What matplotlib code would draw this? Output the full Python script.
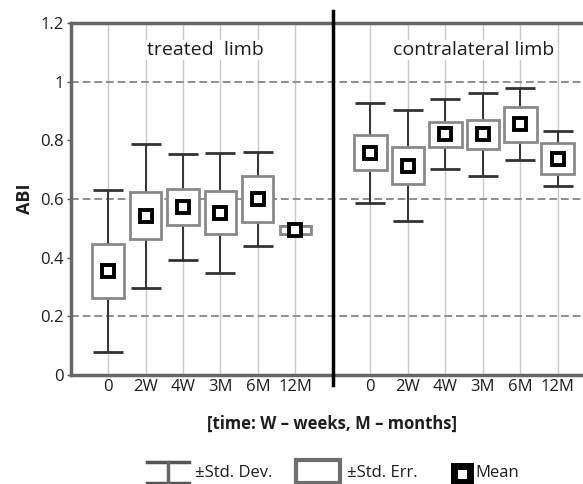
import numpy as np
import matplotlib
matplotlib.use("Agg")
import matplotlib.pyplot as plt
from matplotlib.patches import Rectangle

plt.rcParams['font.family'] = ['Open Sans', 'DejaVu Sans']

# data
time_labels = ['0', '2W', '4W', '3M', '6M', '12M']

treated_mean = [0.355, 0.543, 0.573, 0.553, 0.600, 0.495]
treated_se = [0.093, 0.080, 0.062, 0.073, 0.080, 0.013]
treated_sd = [0.275, 0.245, 0.180, 0.205, 0.160, 0.013]

contra_mean = [0.758, 0.714, 0.821, 0.820, 0.855, 0.738]
contra_se = [0.060, 0.064, 0.043, 0.048, 0.060, 0.053]
contra_sd = [0.170, 0.190, 0.120, 0.140, 0.122, 0.093]

group_labels = ['treated  limb', 'contralateral limb']
legend_labels = ['\u00b1Std. Dev.', '\u00b1Std. Err.', 'Mean']

TEXT = '#1e1e1e'


def draw_group(ax, xs, mean, se, sd, box_w):
    """ Draw SD whiskers, SE boxes and mean markers for one group. """
    for x, m, e in zip(xs, mean, se):
        ax.add_patch(Rectangle((x - box_w / 2, m - e), box_w, 2 * e,
                               facecolor='white', edgecolor='#8a8a8a', lw=2, zorder=3))
    ax.errorbar(xs, mean, yerr=sd, fmt='none', ecolor='#333333', elinewidth=1.4,
                capsize=11, capthick=2, zorder=2)
    ax.plot(xs, mean, 's', ms=8, mfc='white', mec='black', mew=2.8, zorder=4)


fig = plt.figure(figsize=(5.83, 4.84), dpi=100)
ax = fig.add_axes([0.121, 0.2252, 1.021 - 0.121, 0.7273])

x_treated = np.arange(1, 7)
x_contra = np.arange(8, 14)

draw_group(ax, x_treated, treated_mean, treated_se, treated_sd, 0.83)
draw_group(ax, x_contra, contra_mean, contra_se, contra_sd, 0.87)

ax.set_xlim(0, 14)
ax.set_ylim(0, 1.2)

# grid
for x in np.concatenate([x_treated, x_contra]):
    ax.axvline(x, color='#c8c8c8', lw=1, zorder=0)
for y in [0.2, 0.6, 1.0]:
    ax.axhline(y, color='#8f8f8f', lw=1.4, ls=(0, (4, 2)), zorder=0)

# divider between the two groups
ax.plot([7, 7], [-0.034, 1.241], color='black', lw=2.5, clip_on=False, zorder=5)

ax.set_xticks(np.concatenate([x_treated, x_contra]))
ax.set_xticklabels(time_labels + time_labels, fontsize=12, color=TEXT)
ax.tick_params(axis='x', length=0, pad=3)
ax.set_yticks([0, 0.2, 0.4, 0.6, 0.8, 1.0, 1.2])
ax.set_yticklabels(['0', '0.2', '0.4', '0.6', '0.8', '1', '1.2'], fontsize=12, color=TEXT)
ax.tick_params(axis='y', length=3, width=1, color='#555555', pad=2)

for side in ['left', 'bottom', 'top']:
    ax.spines[side].set_color('#666666')
    ax.spines[side].set_linewidth(2.5)
ax.spines['right'].set_visible(False)

ax.set_ylabel('ABI', fontsize=13, fontweight='bold', labelpad=4, color=TEXT)
ax.set_xlabel('[time: W \u2013 weeks, M \u2013 months]', fontsize=12, color=TEXT,
              fontweight='bold', labelpad=14, x=(332 - 70.5) / (1.021 - 0.121) / 583)

ax.text(3.6, 1.108, group_labels[0], ha='center', va='center', fontsize=14, color=TEXT,
        bbox=dict(fc='white', ec='none', pad=1), zorder=6)
ax.text(10.75, 1.108, group_labels[1], ha='center', va='center', fontsize=14, color=TEXT,
        bbox=dict(fc='white', ec='none', pad=1), zorder=6)

# legend strip, drawn in pixel units
lg = fig.add_axes([0, 0, 1, 40 / 484])
lg.set_xlim(0, 583)
lg.set_ylim(0, 40)
lg.axis('off')
lg.plot([147, 189], [22, 22], color='#555555', lw=2.5)
lg.plot([147, 189], [1, 1], color='#555555', lw=2.5)
lg.plot([168, 168], [1, 22], color='#666666', lw=2.5)
lg.add_patch(Rectangle((296, 1), 44, 23, facecolor='white', edgecolor='#6e6e6e', lw=3))
lg.plot([461.5], [10.5], 's', ms=11.5, mfc='white', mec='black', mew=5)
for x0, lab in zip([195, 347, 475], legend_labels):
    lg.text(x0, 11, lab, ha='left', va='center', fontsize=12, color=TEXT)

fig.savefig('out.png', dpi=100)
